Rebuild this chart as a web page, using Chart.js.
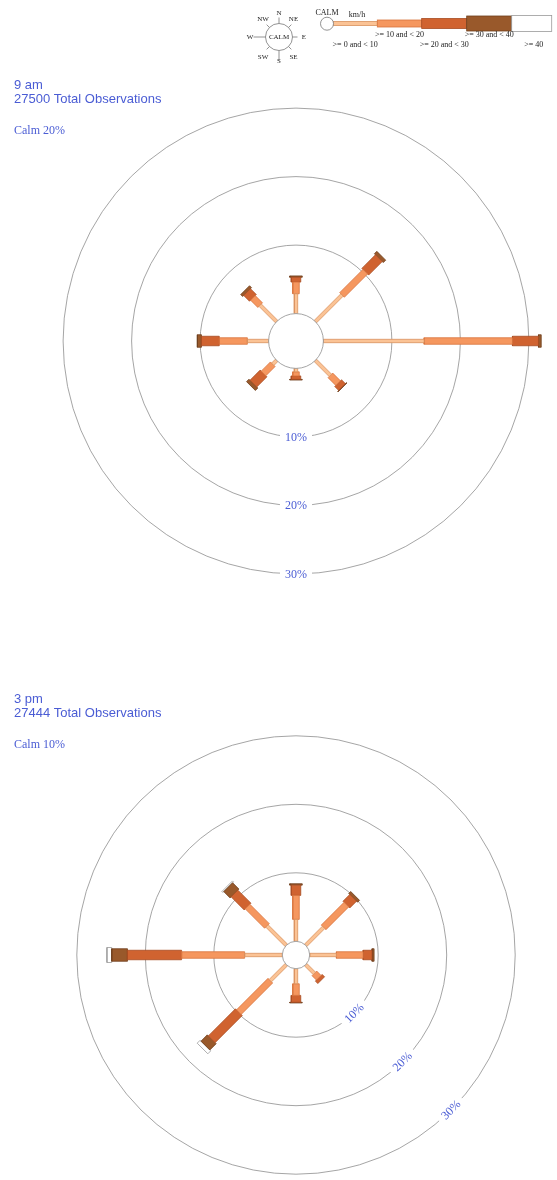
<!DOCTYPE html>
<html><head><meta charset="utf-8">
<script src="https://cdn.jsdelivr.net/npm/chart.js@4.4.1/dist/chart.umd.min.js"></script>
<style>
html,body{margin:0;padding:0;background:#fff;overflow:hidden;width:557px;height:1180px;}
canvas{position:absolute;left:0;}
#c1{top:0;} #c2{top:614px;}
</style></head><body>
<canvas id="c1" width="557" height="614"></canvas>
<canvas id="c2" width="557" height="566"></canvas>
<script>
// ---------- data ----------
const directions = ['N','NE','E','SE','S','SW','W','NW'];
const directionAngles = [0,45,90,135,180,225,270,315];
const speedClasses = ['>= 0 and < 10','>= 10 and < 20','>= 20 and < 30','>= 30 and < 40','>= 40'];
const ringTicks = [10,20,30];
const ringTickLabels = ['10%','20%','30%'];

const am9Label = '9 am';
const am9Total = 27500;
const am9Calm = 20;
const am9Speed0 = [2.9, 5.5, 14.7, 3.1, 0.5, 0.8, 3.1, 3.4];
const am9Speed1 = [1.7, 4.8, 12.9, 1.6, 0.6, 1.9, 4.1, 1.5];
const am9Speed2 = [0.7, 2.8, 3.8, 0.8, 0.5, 2.1, 2.6, 1.2];
const am9Speed3 = [0.2, 0.5, 0.4, 0.1, 0.1, 0.5, 0.6, 0.4];
const am9Speed4 = [0, 0, 0, 0, 0, 0, 0, 0];

const pm3Label = '3 pm';
const pm3Total = 27444;
const pm3Calm = 10;
const pm3Speed0 = [3.2, 3.7, 3.9, 1.8, 2.2, 3.3, 5.5, 4.0];
const pm3Speed1 = [3.5, 4.7, 3.9, 0.9, 1.7, 6.5, 9.2, 4.0];
const pm3Speed2 = [1.5, 1.4, 1.3, 0.5, 1.0, 5.6, 7.9, 2.7];
const pm3Speed3 = [0.2, 0.4, 0.3, 0.0, 0.1, 1.3, 2.3, 1.3];
const pm3Speed4 = [0, 0, 0, 0, 0, 0.6, 0.7, 0.2];

// ---------- styles ----------
const PX_PER_PCT = 6.85;
const CALM_RADIUS_PER_PCT = 0.2;
const BLUE = '#4a5cd4';
const segWidths = [3.4, 6.5, 9.5, 12.5, 15];
const segFill = ['#fbc395', '#f5975f', '#d06330', '#99592b', '#ffffff'];
const segStroke = ['#d9925e', '#d8743d', '#a84c22', '#6e3f1d', '#9a9a9a'];
const SERIF = '"Liberation Serif","Times New Roman",serif';
const SANS = '"Liberation Sans",Arial,sans-serif';

function buildDatasets(speedArrays, calm) {
  const r0 = calm * CALM_RADIUS_PER_PCT;
  const ds = [];
  directions.forEach((d, i) => {
    let r = r0;
    const th = directionAngles[i] * Math.PI / 180;
    const ux = Math.sin(th), uy = Math.cos(th);
    const vx = Math.cos(th), vy = -Math.sin(th);
    speedArrays.forEach((arr, k) => {
      const v = arr[i];
      if (!v) return;
      const r1 = r, r2 = r + v;
      r = r2;
      const hw = segWidths[k] / 2 / PX_PER_PCT;
      const pts = [
        {x: r1*ux + hw*vx, y: r1*uy + hw*vy},
        {x: r2*ux + hw*vx, y: r2*uy + hw*vy},
        {x: r2*ux - hw*vx, y: r2*uy - hw*vy},
        {x: r1*ux - hw*vx, y: r1*uy - hw*vy},
        {x: r1*ux + hw*vx, y: r1*uy + hw*vy}
      ];
      ds.push({
        label: d + ' ' + speedClasses[k], data: pts, fill: 'shape',
        backgroundColor: segFill[k], borderColor: segStroke[k], borderWidth: 0.8,
        pointRadius: 0, tension: 0, borderJoinStyle: 'miter'
      });
    });
  });
  return ds;
}

function drawLegend(ctx) {
  ctx.save();
  // compass
  const cx = 279, cy = 37, r = 13.5;
  ctx.strokeStyle = '#777'; ctx.lineWidth = 0.8;
  ctx.beginPath(); ctx.arc(cx, cy, r, 0, Math.PI*2); ctx.fillStyle='#fff'; ctx.fill(); ctx.stroke();
  const lines = [[0,r,r+6],[90,r,r+5],[180,r,r+10],[270,r,r+12],[45,r,r+4],[135,r,r+4],[225,r,r+4],[315,r,r+4]];
  lines.forEach(([a,r1,r2]) => {
    const t = a*Math.PI/180;
    ctx.beginPath();
    ctx.moveTo(cx + r1*Math.sin(t), cy - r1*Math.cos(t));
    ctx.lineTo(cx + r2*Math.sin(t), cy - r2*Math.cos(t));
    ctx.stroke();
  });
  ctx.fillStyle = '#222';
  ctx.font = '7px ' + SERIF; ctx.textAlign = 'center'; ctx.textBaseline = 'middle';
  ctx.fillText('CALM', cx, cy + 0.5);
  const lbl = [['N',279,13],['NE',293.5,19],['E',304,37.5],['SE',293.5,57],['S',279,61],['SW',263,57],['W',250,37.5],['NW',263,19]];
  lbl.forEach(([t,x,y]) => ctx.fillText(t, x, y));
  // calm marker
  ctx.font = '8px ' + SERIF;
  ctx.fillText('CALM', 327, 12.5);
  ctx.fillText('km/h', 357, 15);
  // bar
  const xs = [333, 377.3, 421.7, 466.7, 511.7, 551.7];
  const hs = [4, 7, 10, 15, 16];
  const yc = 23.5;
  for (let k = 0; k < 5; k++) {
    ctx.fillStyle = segFill[k]; ctx.strokeStyle = segStroke[k]; ctx.lineWidth = 0.8;
    ctx.fillRect(xs[k], yc - hs[k]/2, xs[k+1]-xs[k], hs[k]);
    ctx.strokeRect(xs[k], yc - hs[k]/2, xs[k+1]-xs[k], hs[k]);
  }
  ctx.beginPath(); ctx.arc(327, 23.7, 6.5, 0, Math.PI*2);
  ctx.fillStyle = '#fff'; ctx.fill(); ctx.strokeStyle = '#777'; ctx.stroke();
  ctx.fillStyle = '#222'; ctx.font = '8px ' + SERIF;
  speedClasses.forEach((s, k) => {
    const x = (xs[k] + xs[k+1]) / 2;
    ctx.fillText(s, x + (k === 4 ? 2 : 0), k % 2 === 0 ? 45 : 35);
  });
  ctx.restore();
}

const rosePlugin = {
  id: 'rose',
  beforeDatasetsDraw(chart, args, opts) {
    const ctx = chart.ctx, xs = chart.scales.x, ys = chart.scales.y;
    const cx = xs.getPixelForValue(0), cy = ys.getPixelForValue(0);
    const pxr = v => xs.getPixelForValue(v) - cx;
    const r0 = opts.calm * CALM_RADIUS_PER_PCT;
    ctx.save();
    ctx.strokeStyle = '#8e8e8e'; ctx.lineWidth = 0.8;
    ringTicks.forEach(t => { ctx.beginPath(); ctx.arc(cx, cy, pxr(r0 + t), 0, Math.PI*2); ctx.stroke(); });
    ctx.font = '12px ' + SERIF; ctx.textAlign = 'center'; ctx.textBaseline = 'middle';
    ringTicks.forEach((t, i) => {
      const R = pxr(r0 + t);
      const a = opts.labelAngle * Math.PI / 180;
      ctx.save();
      ctx.translate(cx + R*Math.sin(a), cy - R*Math.cos(a));
      ctx.rotate(opts.labelRotate * Math.PI / 180);
      const w = ctx.measureText(ringTickLabels[i]).width;
      ctx.fillStyle = '#fff'; ctx.fillRect(-w/2 - 5, -6, w + 10, 12);
      ctx.fillStyle = BLUE; ctx.fillText(ringTickLabels[i], 0, 0.5);
      ctx.restore();
    });
    ctx.restore();
  },
  afterDatasetsDraw(chart, args, opts) {
    const ctx = chart.ctx, xs = chart.scales.x, ys = chart.scales.y;
    const cx = xs.getPixelForValue(0), cy = ys.getPixelForValue(0);
    const r0 = opts.calm * CALM_RADIUS_PER_PCT;
    ctx.save();
    ctx.beginPath(); ctx.arc(cx, cy, xs.getPixelForValue(r0) - cx, 0, Math.PI*2);
    ctx.fillStyle = '#fff'; ctx.fill();
    ctx.strokeStyle = '#8e8e8e'; ctx.lineWidth = 0.8; ctx.stroke();
    // titles
    ctx.fillStyle = BLUE; ctx.textAlign = 'left'; ctx.textBaseline = 'alphabetic';
    ctx.font = '13px ' + SANS;
    ctx.fillText(opts.title, 14, 88.5);
    ctx.fillText(opts.total + ' Total Observations', 14, 103);
    ctx.font = '12px ' + SERIF;
    ctx.fillText('Calm ' + opts.calm + '%', 14, 134);
    if (opts.legend) drawLegend(ctx);
    ctx.restore();
  }
};

function makeRose(id, speeds, calm, title, total, labelAngle, labelRotate, legend) {
  const canvas = document.getElementById(id);
  const W = canvas.width, H = canvas.height;
  const cxp = 296, cyp = 341;
  new Chart(canvas, {
    type: 'line',
    data: { datasets: buildDatasets(speeds, calm) },
    options: {
      responsive: false, animation: false, events: [], devicePixelRatio: 1,
      layout: { padding: 0 },
      scales: {
        x: { type: 'linear', display: false, min: -cxp / PX_PER_PCT, max: (W - cxp) / PX_PER_PCT },
        y: { type: 'linear', display: false, min: -(H - cyp) / PX_PER_PCT, max: cyp / PX_PER_PCT }
      },
      plugins: {
        legend: { display: false }, tooltip: { enabled: false },
        rose: { calm, title, total, labelAngle, labelRotate, legend }
      }
    },
    plugins: [rosePlugin]
  });
}

makeRose('c1', [am9Speed0, am9Speed1, am9Speed2, am9Speed3, am9Speed4], am9Calm, am9Label, am9Total, 180, 0, true);
makeRose('c2', [pm3Speed0, pm3Speed1, pm3Speed2, pm3Speed3, pm3Speed4], pm3Calm, pm3Label, pm3Total, 135, -45, false);
</script>
</body></html>
